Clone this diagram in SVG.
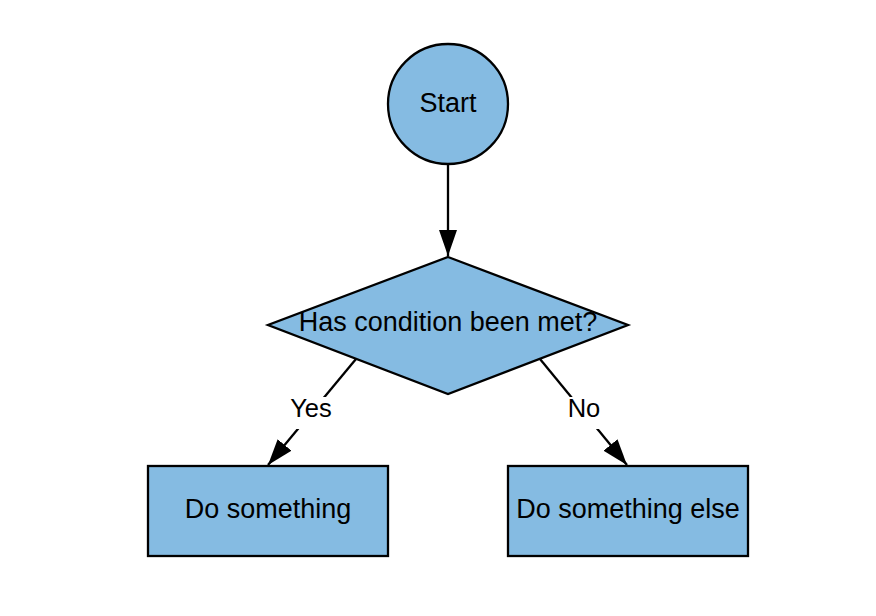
<svg xmlns="http://www.w3.org/2000/svg" width="876" height="616" viewBox="0 0 876 616">
<style>
.node{fill:#85bbe2;stroke:#000;stroke-width:2.3}
.lbl{font-family:"Liberation Sans",Arial,sans-serif;font-size:25.5px;fill:#000;text-anchor:middle}
.nlbl{font-size:27px}
.edge{stroke:#000;stroke-width:2.3;fill:none}
</style>
<defs>
<marker id="arr" markerUnits="userSpaceOnUse" markerWidth="28" markerHeight="18" refX="26" refY="9" orient="auto">
<path d="M0,0 L26,9 L0,18 z" fill="#000"/>
</marker>
</defs>
<rect width="876" height="616" fill="#fff"/>
<g id="connectors">
<line class="edge" x1="448" y1="165" x2="448" y2="256" marker-end="url(#arr)"/>
<line class="edge" x1="356" y1="359" x2="268" y2="465" marker-end="url(#arr)"/>
<line class="edge" x1="540" y1="359" x2="627" y2="465" marker-end="url(#arr)"/>
<rect x="285" y="397" width="52" height="32" fill="#fff"/>
<rect x="561" y="397" width="46" height="32" fill="#fff"/>
<text class="lbl" x="311" y="417">Yes</text>
<text class="lbl" x="584" y="417">No</text>
</g>
<g id="start">
<circle class="node" cx="448" cy="104" r="60"/>
<text class="lbl nlbl" x="448" y="112">Start</text>
</g>
<g id="decision">
<polygon class="node" points="448,257 628,325 448,394 268,325"/>
<text class="lbl nlbl" x="448" y="331">Has condition been met?</text>
</g>
<g id="do-something">
<rect class="node" x="148" y="466" width="240" height="90"/>
<text class="lbl nlbl" x="268" y="518">Do something</text>
</g>
<g id="do-something-else">
<rect class="node" x="508" y="466" width="240" height="90"/>
<text class="lbl nlbl" x="628" y="518">Do something else</text>
</g>
</svg>
